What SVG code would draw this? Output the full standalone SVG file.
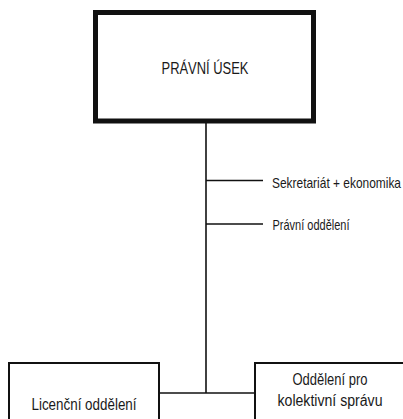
<svg xmlns="http://www.w3.org/2000/svg" width="403" height="419" viewBox="0 0 403 419">
<style>
text{font-family:"Liberation Sans",Arial,sans-serif;fill:#1a1a1a}
.box{fill:#fff;stroke:#111;stroke-width:2}
.main{fill:#fff;stroke:#111;stroke-width:5}
.ln{stroke:#111;stroke-width:1.6;fill:none}
.c{text-anchor:middle;font-size:16px}
.s{font-size:15px}
</style>
<rect width="403" height="419" fill="#fff"/>
<g id="connectors">
<line class="ln" x1="206" y1="123" x2="206" y2="393"/>
<line class="ln" x1="206" y1="180.5" x2="263" y2="180.5"/>
<line class="ln" x1="206" y1="224" x2="263" y2="224"/>
<line class="ln" x1="159" y1="393" x2="255" y2="393"/>
</g>
<g id="pravni-usek">
<rect class="main" x="95.5" y="12.5" width="218" height="108.5"/>
<text class="c" x="205" y="74" textLength="87" lengthAdjust="spacingAndGlyphs">PRÁVNÍ ÚSEK</text>
</g>
<g id="sekretariat">
<text class="s" x="272" y="187.5" textLength="129" lengthAdjust="spacingAndGlyphs">Sekretariát + ekonomika</text>
</g>
<g id="pravni-oddeleni">
<text class="s" x="272.5" y="229.5" textLength="77" lengthAdjust="spacingAndGlyphs">Právní oddělení</text>
</g>
<g id="licencni">
<rect class="box" x="9" y="363" width="150" height="70"/>
<text class="c" x="84" y="410" textLength="105" lengthAdjust="spacingAndGlyphs">Licenční oddělení</text>
</g>
<g id="kolektivni">
<rect class="box" x="255" y="363" width="160" height="70"/>
<text class="c" x="330" y="385" textLength="75" lengthAdjust="spacingAndGlyphs">Oddělení pro</text>
<text class="c" x="330" y="406" textLength="105" lengthAdjust="spacingAndGlyphs">kolektivní správu</text>
</g>
</svg>
